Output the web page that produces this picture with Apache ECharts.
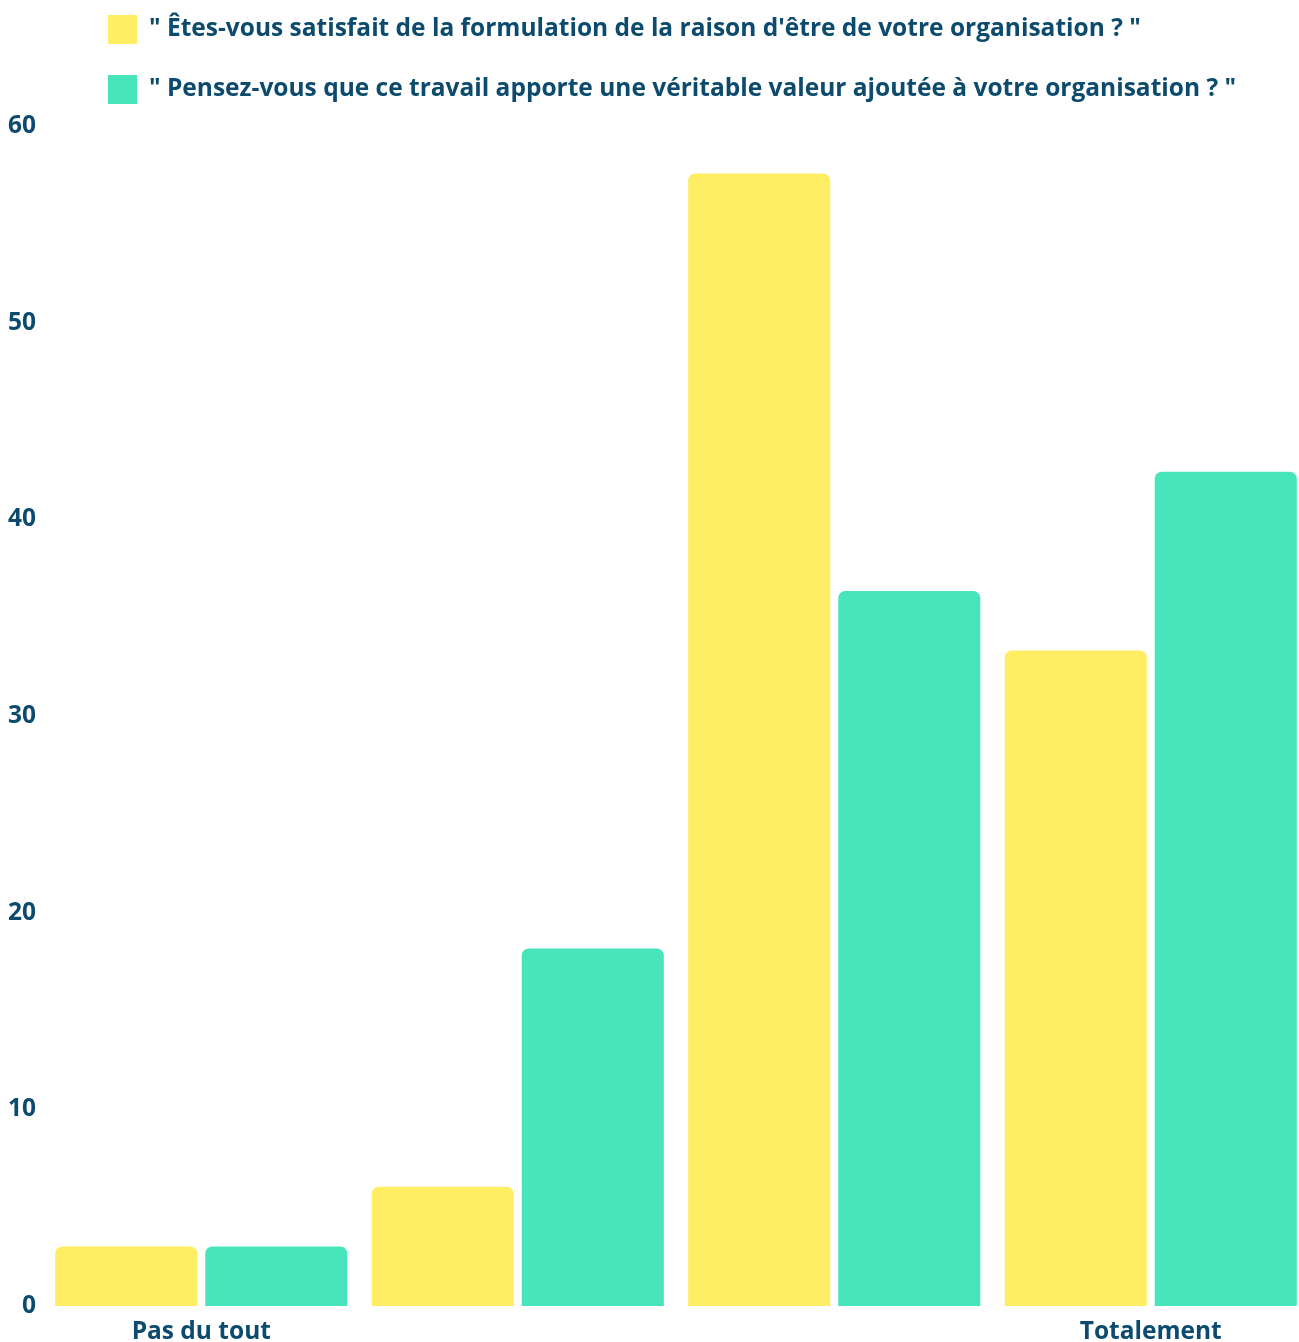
<!DOCTYPE html>
<html>
<head>
<meta charset="utf-8">
<script src="https://cdn.jsdelivr.net/npm/echarts@6/dist/echarts.min.js"></script>
<style>html,body{margin:0;padding:0;background:#fff}#c{width:1299px;height:1342px}</style>
</head>
<body>
<div id="c"></div>
<script>
const categories = ["Pas du tout", "", "", "Totalement"];
const seriesNames = [
  "\" Êtes-vous satisfait de la formulation de la raison d'être de votre organisation ? \"",
  "\" Pensez-vous que ce travail apporte une véritable valeur ajoutée à votre organisation ? \""
];
const satisfaitValues = [3.03, 6.06, 57.58, 33.33];
const valeurValues = [3.03, 18.18, 36.36, 42.42];
const yTicks = [0, 10, 20, 30, 40, 50, 60];

const textColor = "#0C4B6E";
const font = "Open Sans";
const fs = 24.5;
const chart = echarts.init(document.getElementById('c'));
chart.setOption({
  animation: false,
  backgroundColor: "#fff",
  legend: {
    orient: "vertical",
    left: 108,
    top: 15,
    padding: 0,
    itemWidth: 29,
    itemHeight: 29,
    itemGap: 31,
    icon: "rect",
    textStyle: { color: textColor, fontSize: fs, fontWeight: "bold", fontFamily: font, padding: [0, 0, 0, 7] },
    data: seriesNames
  },
  grid: { left: 43, right: -10, top: 126, bottom: 36, containLabel: false, outerBoundsMode: "none" },
  xAxis: {
    type: "category",
    data: categories,
    axisLine: { show: false },
    axisTick: { show: false },
    axisLabel: { color: textColor, fontSize: fs, fontWeight: "bold", fontFamily: font, margin: 14 }
  },
  yAxis: {
    type: "value",
    min: yTicks[0],
    max: yTicks[yTicks.length - 1],
    interval: 10,
    splitLine: { show: false },
    axisLine: { show: false },
    axisTick: { show: false },
    axisLabel: { color: textColor, fontSize: fs, fontWeight: "bold", fontFamily: font, margin: 7 }
  },
  series: [
    {
      name: seriesNames[0], type: "bar", data: satisfaitValues,
      barGap: "5.6%", barCategoryGap: "7.7%",
      itemStyle: { color: "#FFEE63", borderRadius: [7, 7, 0, 0] }
    },
    {
      name: seriesNames[1], type: "bar", data: valeurValues,
      barGap: "5.6%", barCategoryGap: "7.7%",
      itemStyle: { color: "#48E5BD", borderRadius: [7, 7, 0, 0] }
    }
  ]
});
</script>
</body>
</html>
